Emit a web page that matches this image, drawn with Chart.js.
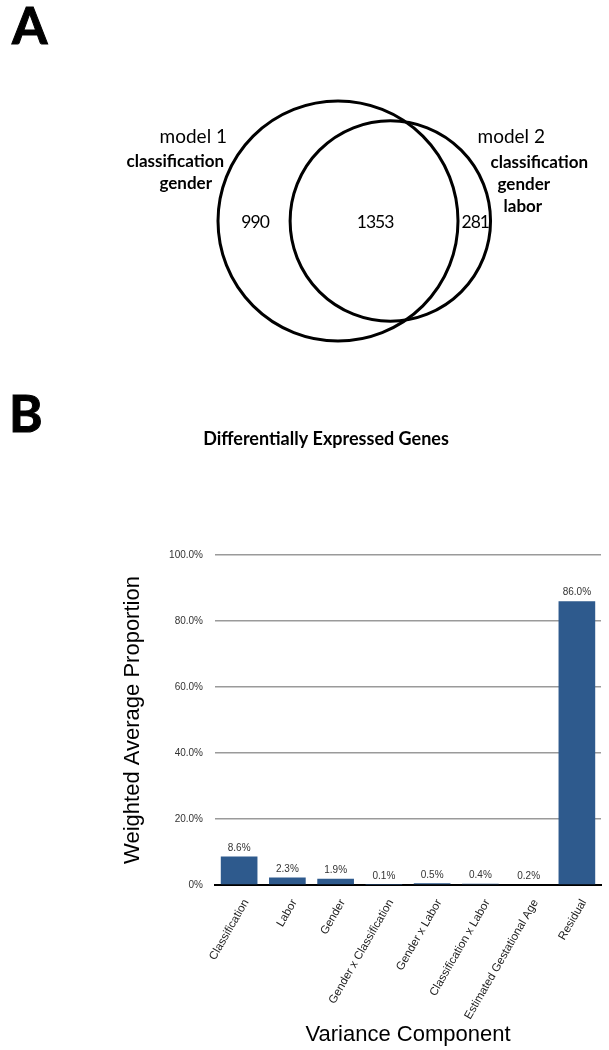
<!DOCTYPE html>
<html>
<head>
<meta charset="utf-8">
<script src="https://cdn.jsdelivr.net/npm/chart.js@4.4.1/dist/chart.umd.min.js"></script>
<style>
  html, body { margin: 0; padding: 0; background: #fff; }
  body { width: 609px; height: 1050px; position: relative; overflow: hidden; }
  canvas { position: absolute; }
  #venn { left: 0; top: 0; }
  #bars { left: 51px; top: 410px; }
  .panel { position: absolute; font-family: "Liberation Sans Narrow", Lato, "Open Sans", sans-serif; font-weight: bold; font-size: 51px; line-height: 51px; color: #000; -webkit-text-stroke: 1px #000; }
</style>
</head>
<body>
<div class="panel" style="left:12px; top:-1px;">A</div>
<div class="panel" style="left:9px; top:387px;">B</div>
<canvas id="venn" width="609" height="400"></canvas>
<canvas id="bars" width="558" height="640"></canvas>
<script>
// ---------- Panel A data (Venn diagram) ----------
const vennSetNames = ['model 1', 'model 2'];
const vennSetTerms = [['classification', 'gender'], ['classification', 'gender', 'labor']];
const vennRegionNames = ['model 1 only', 'both', 'model 2 only'];
const vennRegionCounts = [990, 1353, 281];

// ---------- Panel B data (bar chart) ----------
const categories = ['Classification', 'Labor', 'Gender', 'Gender x Classification', 'Gender x Labor',
  'Classification x Labor', 'Estimated Gestational Age', 'Residual'];
const proportions = [8.6, 2.3, 1.9, 0.1, 0.5, 0.4, 0.2, 86.0];
const yTickValues = [0, 20, 40, 60, 80, 100];

// ---------- Venn geometry from the counts (area-proportional) ----------
const setSizes = [vennRegionCounts[0] + vennRegionCounts[1], vennRegionCounts[1] + vennRegionCounts[2]];
const radii = setSizes.map(s => Math.sqrt(s / Math.PI));
function lensArea(r1, r2, d) {
  if (d >= r1 + r2) return 0;
  if (d <= Math.abs(r1 - r2)) return Math.PI * Math.min(r1, r2) ** 2;
  const a1 = Math.acos((d * d + r1 * r1 - r2 * r2) / (2 * d * r1));
  const a2 = Math.acos((d * d + r2 * r2 - r1 * r1) / (2 * d * r2));
  return r1 * r1 * a1 + r2 * r2 * a2 -
    0.5 * Math.sqrt((-d + r1 + r2) * (d + r1 - r2) * (d - r1 + r2) * (d + r1 + r2));
}
let lo = Math.abs(radii[0] - radii[1]), hi = radii[0] + radii[1];
for (let i = 0; i < 80; i++) {
  const mid = (lo + hi) / 2;
  if (lensArea(radii[0], radii[1], mid) > vennRegionCounts[1]) lo = mid; else hi = mid;
}
const centerDist = (lo + hi) / 2;
const vennPoints = [
  { x: 0, y: 0 },
  { x: centerDist, y: 0 }
];

// layout / style constants for panel A
const PX_PER_UNIT = 120 / radii[0];
const V_W = 609, V_H = 400, V_CX = 338, V_CY = 221;

const vennTextPlugin = {
  id: 'vennText',
  afterDatasetsDraw(chart) {
    const { ctx, scales: { x, y } } = chart;
    const px = v => x.getPixelForValue(v);
    const cy = y.getPixelForValue(0);
    const c1 = vennPoints[0].x, c2 = vennPoints[1].x, r1 = radii[0], r2 = radii[1];
    ctx.save();
    ctx.fillStyle = '#000';
    ctx.textBaseline = 'middle';
    // region counts
    ctx.font = '17.5px Lato, "Open Sans", sans-serif';
    ctx.textAlign = 'center';
    if ('letterSpacing' in ctx) ctx.letterSpacing = '-1px';
    const mids = [((c1 - r1) + (c2 - r2)) / 2, ((c2 - r2) + (c1 + r1)) / 2, ((c1 + r1) + (c2 + r2)) / 2];
    mids.forEach((m, i) => ctx.fillText(String(vennRegionCounts[i]), px(m) + 1, cy + 1));
    if ('letterSpacing' in ctx) ctx.letterSpacing = '0px';
    // set labels
    const left1 = px(c1 - r1), right2 = px(c2 + r2);
    ctx.font = '19px Lato, "Open Sans", sans-serif';
    ctx.textAlign = 'right';
    ctx.fillText(vennSetNames[0], left1 + 9, cy - 84);
    ctx.textAlign = 'left';
    ctx.fillText(vennSetNames[1], right2 - 13, cy - 84);
    ctx.font = 'bold 17px Lato, "Open Sans", sans-serif';
    const off1 = [[6, -59, 'right'], [-6, -37, 'right']];
    vennSetTerms[0].forEach((t, i) => { ctx.textAlign = off1[i][2]; ctx.fillText(t, left1 + off1[i][0], cy + off1[i][1]); });
    const off2 = [[0, -58], [7, -36], [13, -14]];
    ctx.textAlign = 'left';
    vennSetTerms[1].forEach((t, i) => ctx.fillText(t, right2 + off2[i][0], cy + off2[i][1]));
    ctx.restore();
  }
};

new Chart(document.getElementById('venn'), {
  type: 'bubble',
  data: {
    datasets: [{
      label: 'sets',
      data: vennPoints,
      backgroundColor: 'rgba(0,0,0,0)',
      borderColor: '#000',
      borderWidth: 3,
      hoverBorderWidth: 3,
      radius: radii.map(r => r * PX_PER_UNIT),
      clip: false
    }]
  },
  options: {
    responsive: false,
    animation: false,
    events: [],
    layout: { padding: 0, autoPadding: false },
    plugins: { legend: { display: false }, tooltip: { enabled: false } },
    scales: {
      x: { type: 'linear', display: false, min: -V_CX / PX_PER_UNIT, max: (V_W - V_CX) / PX_PER_UNIT },
      y: { type: 'linear', display: false, min: -(V_H - V_CY) / PX_PER_UNIT, max: V_CY / PX_PER_UNIT }
    }
  },
  plugins: [vennTextPlugin]
});

// ---------- Panel B ----------
const valueLabelPlugin = {
  id: 'valueLabels',
  afterDatasetsDraw(chart) {
    const { ctx } = chart;
    const meta = chart.getDatasetMeta(0);
    ctx.save();
    ctx.font = '10px "Liberation Sans", Arial, sans-serif';
    ctx.fillStyle = '#333';
    ctx.textAlign = 'center';
    ctx.textBaseline = 'middle';
    ctx.shadowColor = 'rgba(255,255,255,0.95)';
    ctx.shadowBlur = 2;
    meta.data.forEach((bar, i) => {
      ctx.fillText(proportions[i].toFixed(1) + '%', bar.x, bar.y - 8.5);
    });
    ctx.restore();
  }
};

new Chart(document.getElementById('bars'), {
  type: 'bar',
  data: {
    labels: categories,
    datasets: [{
      label: 'Weighted Average Proportion',
      data: proportions,
      backgroundColor: '#2e5a8d',
      borderWidth: 0,
      barPercentage: 0.76,
      categoryPercentage: 1.0
    }]
  },
  options: {
    responsive: false,
    animation: false,
    events: [],
    layout: { padding: { left: 0, right: 8, top: 0, bottom: 0 } },
    plugins: {
      legend: { display: false },
      tooltip: { enabled: false },
      title: {
        display: true,
        text: 'Differentially Expressed Genes',
        color: '#000',
        font: { family: 'Lato, "Open Sans", sans-serif', size: 18, weight: 'bold', lineHeight: 1.2 },
        padding: { top: 18.2, bottom: 105.2 }
      }
    },
    scales: {
      x: {
        grid: { display: false, drawTicks: false },
        border: { display: true, color: '#000', width: 2 },
        ticks: {
          color: '#222',
          font: { family: '"Liberation Sans", Arial, sans-serif', size: 11.5 },
          minRotation: 60, maxRotation: 60, autoSkip: false, padding: 12, labelOffset: 7
        },
        title: {
          display: true, text: 'Variance Component', color: '#000',
          font: { family: '"Liberation Sans", Arial, sans-serif', size: 22, lineHeight: 1.2 },
          padding: { top: 0, bottom: 2 }
        },
        afterFit: s => { s.height = 165; }
      },
      y: {
        min: 0, max: 100,
        afterBuildTicks: s => { s.ticks = yTickValues.map(v => ({ value: v })); },
        grid: {
          drawTicks: false,
          color: c => (c.tick && c.tick.value === 0) ? 'rgba(0,0,0,0)' : '#9a9a9a',
          lineWidth: 1.5
        },
        border: { display: false },
        ticks: {
          color: '#333',
          padding: 12,
          font: { family: '"Liberation Sans", Arial, sans-serif', size: 10 },
          callback: v => v === 0 ? '0%' : v.toFixed(1) + '%'
        },
        title: {
          display: true, text: 'Weighted Average Proportion', color: '#000',
          font: { family: '"Liberation Sans", Arial, sans-serif', size: 22, lineHeight: 1.2 },
          padding: { top: 69, bottom: 0 }
        },
        afterFit: s => { s.width = 164; }
      }
    }
  },
  plugins: [valueLabelPlugin]
});
</script>
</body>
</html>
